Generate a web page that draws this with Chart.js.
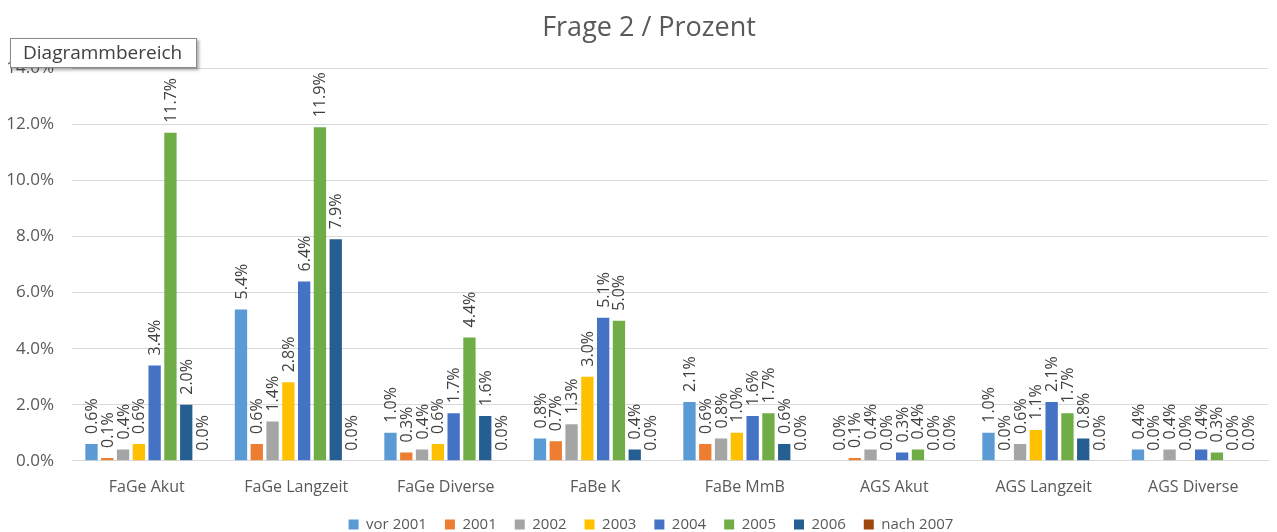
<!DOCTYPE html>
<html lang="de">
<head>
<meta charset="UTF-8" />
<title>Frage 2 / Prozent</title>
<script src="https://cdn.jsdelivr.net/npm/chart.js"></script>
<style>
  html, body { margin: 0; padding: 0; background: #fff; }
  #wrap { position: relative; width: 1277px; height: 532px; }
  #tip {
    position: absolute; left: 10px; top: 38px; width: 187px; height: 30px;
    box-sizing: border-box; border: 1px solid #8a8a8a; background: #fff;
    box-shadow: 2px 2px 3px rgba(0,0,0,0.35);
    font: 19px "Open Sans", sans-serif; color: #404040;
    line-height: 27px; padding-left: 12px; white-space: nowrap;
  }
</style>
</head>
<body>
<div id="wrap">
  <canvas id="chart" width="1277" height="532"></canvas>
  <div id="tip">Diagrammbereich</div>
</div>
<script>
const categories = ["FaGe Akut", "FaGe Langzeit", "FaGe Diverse", "FaBe K", "FaBe MmB", "AGS Akut", "AGS Langzeit", "AGS Diverse"];
const seriesNames = ["vor 2001", "2001", "2002", "2003", "2004", "2005", "2006", "nach 2007"];
const vor2001  = [0.6, 5.4, 1.0, 0.8, 2.1, 0.0, 1.0, 0.4];
const y2001    = [0.1, 0.6, 0.3, 0.7, 0.6, 0.1, 0.0, 0.0];
const y2002    = [0.4, 1.4, 0.4, 1.3, 0.8, 0.4, 0.6, 0.4];
const y2003    = [0.6, 2.8, 0.6, 3.0, 1.0, 0.0, 1.1, 0.0];
const y2004    = [3.4, 6.4, 1.7, 5.1, 1.6, 0.3, 2.1, 0.4];
const y2005    = [11.7, 11.9, 4.4, 5.0, 1.7, 0.4, 1.7, 0.3];
const y2006    = [2.0, 7.9, 1.6, 0.4, 0.6, 0.0, 0.8, 0.0];
const nach2007 = [0.0, 0.0, 0.0, 0.0, 0.0, 0.0, 0.0, 0.0];
const yTicks = [0, 2, 4, 6, 8, 10, 12, 14];

const colors = ["#5B9BD5", "#ED7D31", "#A5A5A5", "#FFC000", "#4472C4", "#70AD47", "#255E91", "#9E480E"];
const allSeries = [vor2001, y2001, y2002, y2003, y2004, y2005, y2006, nach2007];

// rotated value labels above each bar
const barLabels = {
  id: "barLabels",
  afterDatasetsDraw(chart) {
    const ctx = chart.ctx;
    ctx.save();
    ctx.font = '16px "Open Sans", sans-serif';
    ctx.fillStyle = "#404040";
    ctx.textAlign = "left";
    ctx.textBaseline = "middle";
    chart.data.datasets.forEach((ds, i) => {
      chart.getDatasetMeta(i).data.forEach((bar, j) => {
        ctx.save();
        ctx.translate(bar.x + 1, bar.y - 10);
        ctx.rotate(-Math.PI / 2);
        ctx.fillText(ds.data[j].toFixed(1) + "%", 0, 0);
        ctx.restore();
      });
    });
    ctx.restore();
  }
};

// title and legend sit a bit right of the canvas centre in the original
const nudge = {
  id: "nudge",
  afterLayout(chart) {
    chart.titleBlock.left += 30;
    chart.legend.left += 34;
  }
};

new Chart(document.getElementById("chart"), {
  type: "bar",
  data: {
    labels: categories,
    datasets: seriesNames.map((name, i) => ({
      label: name,
      data: allSeries[i],
      backgroundColor: colors[i],
      borderWidth: 0,
      categoryPercentage: 0.845,
      barPercentage: 0.78
    }))
  },
  options: {
    responsive: false,
    animation: false,
    devicePixelRatio: 1,
    layout: { padding: { left: 0, right: 9, top: 12, bottom: -10 } },
    plugins: {
      title: {
        display: true,
        text: "Frage 2 / Prozent",
        color: "#595959",
        font: { family: "Open Sans", size: 27, weight: "normal" },
        padding: { top: 0, bottom: 24 }
      },
      legend: {
        position: "bottom",
        labels: {
          boxWidth: 10, boxHeight: 10, padding: 18,
          color: "#595959",
          font: { family: "Open Sans", size: 15 }
        }
      },
      tooltip: { enabled: false }
    },
    scales: {
      x: {
        afterFit: s => { s.height -= 15; },
        grid: { display: false, drawTicks: false },
        border: { color: "#D9D9D9" },
        ticks: { color: "#595959", font: { family: "Open Sans", size: 16 }, padding: 17 }
      },
      y: {
        min: 0, max: 14,
        afterBuildTicks: s => { s.ticks = yTicks.map(v => ({ value: v })); },
        afterFit: s => { s.width = 72; },
        grid: { color: "#D9D9D9", drawTicks: false },
        border: { display: false },
        ticks: {
          color: "#595959", font: { family: "Open Sans", size: 17 }, padding: 18,
          callback: v => v.toFixed(1) + "%"
        }
      }
    }
  },
  plugins: [barLabels, nudge]
});
</script>
</body>
</html>
